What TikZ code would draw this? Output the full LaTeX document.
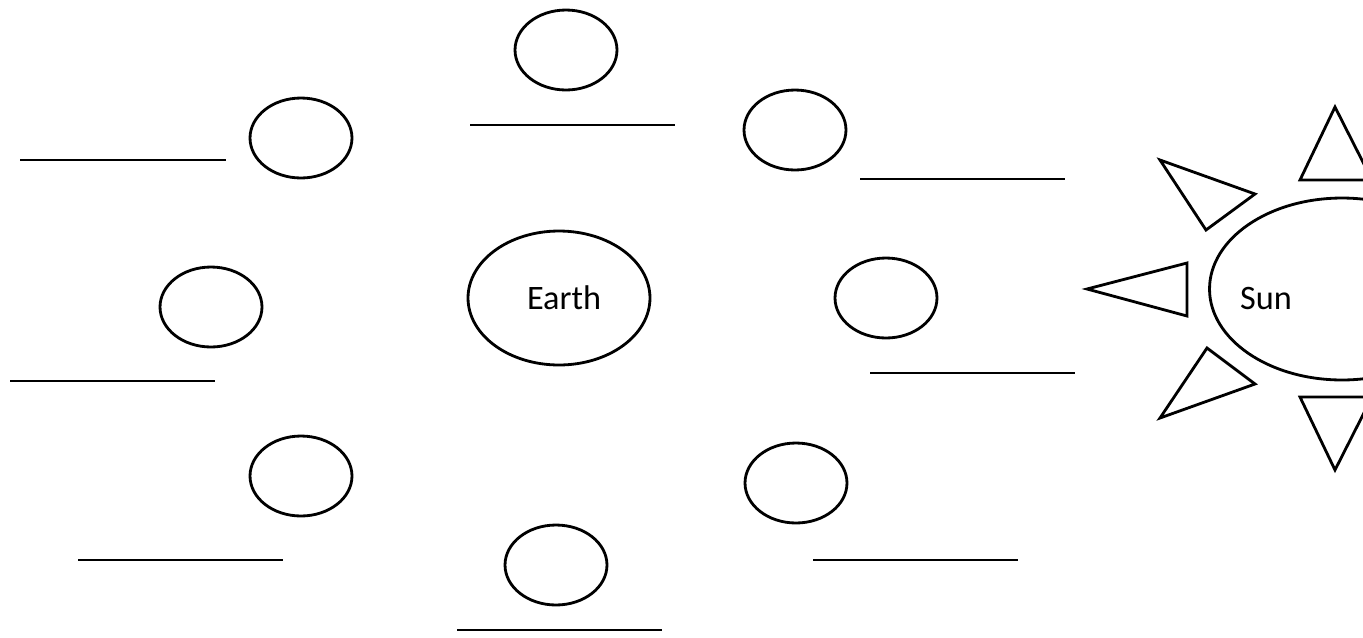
\documentclass[tikz,border=0pt]{standalone}
\usepackage{fontspec}
\setmainfont{Carlito}
\usetikzlibrary{shapes.geometric}

\begin{document}
\begin{tikzpicture}[x=0.02cm, y=-0.02cm, line width=1.6pt,
  moon/.style={draw, ellipse, inner sep=0pt, minimum width=2.04cm, minimum height=1.6cm},
  blank/.style={line width=1.6pt},
  ray/.style={draw, line join=miter}]
  \useasboundingbox (0,0) rectangle (1363,637);
  \clip (0,0) rectangle (1363,637);
  % moon positions round the earth, each with a blank line
  \node[moon] (mtop) at (566,50) {};
  \node[moon] (mtl) at (301,138) {};
  \node[moon] (mtr) at (795,130) {};
  \node[moon] (mml) at (211,307) {};
  \node[moon] (mmr) at (886,298) {};
  \node[moon] (mbl) at (301,476) {};
  \node[moon] (mbr) at (796,483) {};
  \node[moon] (mbot) at (556,565) {};
  \node[draw, ellipse, inner sep=0pt, minimum width=3.64cm, minimum height=2.68cm] (earth) at (559,298) {};
  \node[font=\fontsize{19.5}{21}\selectfont] (earthlabel) at (564,298) {Earth};
  \draw[blank] (470,125) -- (675,125);
  \draw[blank] (20,160) -- (226,160);
  \draw[blank] (860,179) -- (1065,179);
  \draw[blank] (10,381) -- (215,381);
  \draw[blank] (870,373) -- (1075,373);
  \draw[blank] (78,560) -- (283,560);
  \draw[blank] (813,560) -- (1018,560);
  \draw[blank] (457,630) -- (662,630);
  % the sun, cut off at the right edge
  \node[draw, ellipse, inner sep=0pt, minimum width=5.3cm, minimum height=3.64cm] (sun) at (1342,289) {};
  \node[font=\fontsize{19.5}{21}\selectfont] (sunlabel) at (1266,298) {Sun};
  \draw[ray] (1335,107) -- (1300,180) -- (1372,180) -- cycle;
  \draw[ray] (1160,160) -- (1255,194) -- (1206,230) -- cycle;
  \draw[ray] (1087,289) -- (1187,263) -- (1187,316) -- cycle;
  \draw[ray] (1207,348) -- (1255,384) -- (1160,418) -- cycle;
  \draw[ray] (1300,397) -- (1372,397) -- (1335,470) -- cycle;
\end{tikzpicture}
\end{document}
